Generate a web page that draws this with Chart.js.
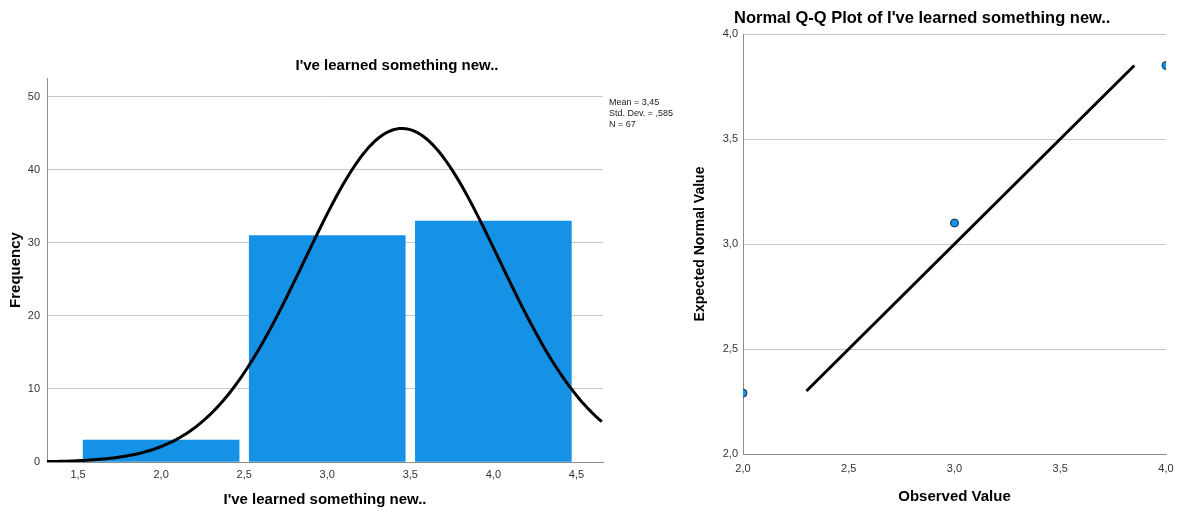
<!DOCTYPE html>
<html>
<head>
<meta charset="utf-8">
<script src="https://cdn.jsdelivr.net/npm/chart.js@4.4.0/dist/chart.umd.min.js"></script>
<style>
  html, body { margin: 0; padding: 0; background: #fff; }
  body { width: 1182px; height: 514px; position: relative; overflow: hidden; }
  .box { position: absolute; top: 0; height: 514px; }
  #histBox { left: 0; width: 680px; }
  #qqBox { left: 680px; width: 502px; }
</style>
</head>
<body>
<div class="box" id="histBox"><canvas id="histChart"></canvas></div>
<div class="box" id="qqBox"><canvas id="qqChart"></canvas></div>
<script>
// histogram: bin centres and frequencies
const binCenters = [2, 3, 4];
const binCounts = [3, 31, 33];
const binTicks = [1.5, 2, 2.5, 3, 3.5, 4, 4.5];
const freqTicks = [0, 10, 20, 30, 40, 50];
const statMean = 3.45;
const statSd = 0.585;
const statN = 67;

// Q-Q plot: observed values against expected normal values
const observed = [2, 3, 4];
const expected = [2.29, 3.10, 3.85];
const qqLineEnds = [2.30, 3.85];
const qqTicks = [2, 2.5, 3, 3.5, 4];

const varName = "I've learned something new..";
const FONT = '"Liberation Sans", Arial, sans-serif';
Chart.defaults.font.family = FONT;

const fmt = v => v.toFixed(1).replace('.', ',');
const fmt2 = v => v.toFixed(2).replace('.', ',');
const fmtSd = v => v.toFixed(3).replace(/^0\./, ',');

// histogram x range
const histMin = 1.313;
const histMax = 4.66;

// fitted normal curve, scaled to counts (bin width 1)
const curve = [];
for (let x = histMin; x <= histMax + 1e-9; x += 0.02) {
  const z = (x - statMean) / statSd;
  curve.push({ x: x, y: statN / (statSd * Math.sqrt(2 * Math.PI)) * Math.exp(-0.5 * z * z) });
}

// draws free text (chart titles, stats box)
const textPlugin = {
  id: 'texts',
  afterDraw(chart, args, opts) {
    const ctx = chart.ctx;
    ctx.save();
    (opts.items || []).forEach(t => {
      ctx.font = t.font;
      ctx.fillStyle = t.color || '#000';
      ctx.textAlign = t.align || 'left';
      ctx.textBaseline = 'middle';
      ctx.fillText(t.text, t.x, t.y);
    });
    ctx.restore();
  }
};

const tickStyle = { color: '#333', font: { size: 11 } };
const axisTitle = { size: 15, weight: 'bold' };

new Chart(document.getElementById('histChart'), {
  type: 'bar',
  data: {
    datasets: [
      {
        type: 'line',
        data: curve,
        borderColor: '#000',
        borderWidth: 3,
        pointRadius: 0,
        tension: 0,
        order: 0
      },
      {
        type: 'bar',
        data: binCenters.map((x, i) => ({ x: x, y: binCounts[i] })),
        backgroundColor: '#1591e5',
        borderWidth: 0,
        barThickness: 156,
        order: 1
      }
    ]
  },
  options: {
    responsive: true,
    maintainAspectRatio: false,
    animation: false,
    layout: { padding: { top: 78, right: 77, bottom: 0, left: 0 } },
    plugins: {
      legend: { display: false },
      tooltip: { enabled: false },
      texts: {
        items: [
          { text: varName, x: 397, y: 66, font: 'bold 15px ' + FONT, align: 'center' },
          { text: 'Mean = ' + fmt2(statMean), x: 609, y: 103, font: '9px ' + FONT, color: '#222' },
          { text: 'Std. Dev. = ' + fmtSd(statSd), x: 609, y: 114, font: '9px ' + FONT, color: '#222' },
          { text: 'N = ' + statN, x: 609, y: 125, font: '9px ' + FONT, color: '#222' }
        ]
      }
    },
    scales: {
      x: {
        type: 'linear',
        min: histMin,
        max: histMax,
        offset: false,
        afterBuildTicks: s => { s.ticks = binTicks.map(v => ({ value: v })); },
        afterFit: s => { s.height = 52; },
        grid: { display: false, drawTicks: false },
        border: { color: '#8c8c8c' },
        ticks: { ...tickStyle, padding: 6, autoSkip: false, maxRotation: 0, callback: v => fmt(v) },
        title: { display: true, text: varName, color: '#000', font: axisTitle, padding: { top: 0, bottom: 5 } }
      },
      y: {
        min: 0,
        max: 52.6,
        afterBuildTicks: s => { s.ticks = freqTicks.map(v => ({ value: v })); },
        afterFit: s => { s.width = 47; },
        grid: { color: '#c8c8c8', drawTicks: false },
        border: { color: '#8c8c8c' },
        ticks: { ...tickStyle, padding: 7, callback: v => String(v) },
        title: { display: true, text: 'Frequency', color: '#000', font: axisTitle, padding: { top: 7, bottom: 0 } }
      }
    }
  },
  plugins: [textPlugin]
});

new Chart(document.getElementById('qqChart'), {
  type: 'scatter',
  data: {
    datasets: [
      {
        data: observed.map((x, i) => ({ x: x, y: expected[i] })),
        pointRadius: 4,
        pointBackgroundColor: '#1591e5',
        pointBorderColor: '#15304a',
        pointBorderWidth: 1,
        clip: 0,
        order: 0
      },
      {
        type: 'line',
        data: qqLineEnds.map(v => ({ x: v, y: v })),
        borderColor: '#000',
        borderWidth: 3,
        pointRadius: 0,
        order: 1
      }
    ]
  },
  options: {
    responsive: true,
    maintainAspectRatio: false,
    animation: false,
    layout: { padding: { top: 34, right: 16, bottom: 0, left: 0 } },
    plugins: {
      legend: { display: false },
      tooltip: { enabled: false },
      texts: {
        items: [
          { text: 'Normal Q-Q Plot of ' + varName, x: 54, y: 18, font: 'bold 16.5px ' + FONT }
        ]
      }
    },
    scales: {
      x: {
        type: 'linear',
        min: 2,
        max: 4,
        afterBuildTicks: s => { s.ticks = qqTicks.map(v => ({ value: v })); },
        afterFit: s => { s.height = 60; },
        grid: { display: false, drawTicks: false },
        border: { color: '#8c8c8c' },
        ticks: { ...tickStyle, padding: 8, autoSkip: false, maxRotation: 0, callback: v => fmt(v) },
        title: { display: true, text: 'Observed Value', color: '#000', font: axisTitle, padding: { top: 0, bottom: 8 } }
      },
      y: {
        min: 2,
        max: 4,
        afterBuildTicks: s => { s.ticks = qqTicks.map(v => ({ value: v })); },
        afterFit: s => { s.width = 63; },
        grid: { color: '#c8c8c8', drawTicks: false },
        border: { color: '#8c8c8c' },
        ticks: { ...tickStyle, padding: 5, callback: v => fmt(v) },
        title: { display: true, text: 'Expected Normal Value', color: '#000', font: { size: 14, weight: 'bold' }, padding: { top: 11.6, bottom: 0 } }
      }
    }
  },
  plugins: [textPlugin]
});
</script>
</body>
</html>
